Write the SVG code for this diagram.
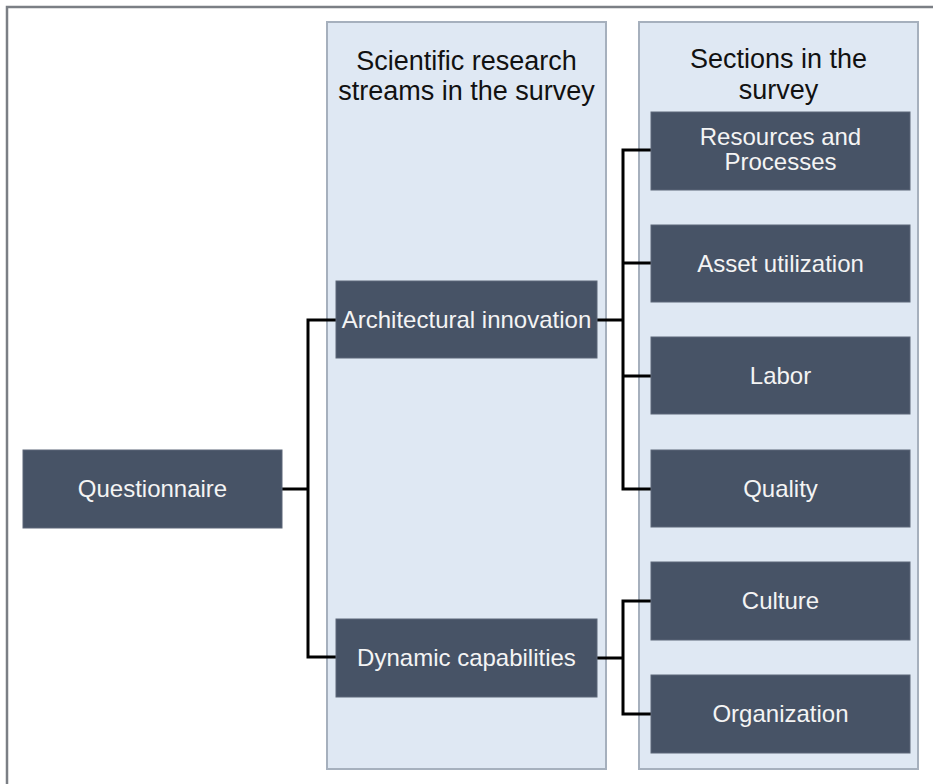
<svg xmlns="http://www.w3.org/2000/svg" width="933" height="784" viewBox="0 0 933 784">
<style>
.frame{fill:#ffffff;stroke:#7b7f85;stroke-width:2.5}
.panel{fill:#dfe8f3;stroke:#a6b0bd;stroke-width:2}
.box{fill:#475366;stroke:#5d6778;stroke-width:1}
.bt{font-family:"Liberation Sans",Arial,sans-serif;font-size:24px;fill:#f4f4f4;text-anchor:middle}
.ht{font-family:"Liberation Sans",Arial,sans-serif;font-size:27px;fill:#111111;text-anchor:middle}
.conn{fill:none;stroke:#000000;stroke-width:3}
</style>
<rect x="0" y="0" width="933" height="784" fill="#ffffff"/>
<rect class="frame" x="7" y="7" width="950" height="800"/>
<g id="panel-streams">
<rect class="panel" x="327" y="22" width="279" height="747"/>
<text class="ht" x="466.5" y="70">Scientific research</text>
<text class="ht" x="466.5" y="100">streams in the survey</text>
</g>
<g id="panel-sections">
<rect class="panel" x="639" y="22" width="279" height="747"/>
<text class="ht" x="778.5" y="68">Sections in the</text>
<text class="ht" x="778.5" y="99">survey</text>
</g>
<g id="connectors">
<path class="conn" d="M282,489 H308 M308,320 V657 M306.5,320 H337 M306.5,657 H337"/>
<path class="conn" d="M597,320 H623 M623,150 V489 M621.5,150 H651 M623,263 H651 M623,376 H651 M621.5,489 H651"/>
<path class="conn" d="M597,658 H623 M623,601 V714 M621.5,601 H651 M621.5,714 H651"/>
</g>
<g id="questionnaire">
<rect class="box" x="23" y="450" width="259" height="78"/>
<text class="bt" x="152.5" y="497">Questionnaire</text>
</g>
<g id="architectural-innovation">
<rect class="box" x="336" y="281" width="261" height="77"/>
<text class="bt" x="466.5" y="328">Architectural innovation</text>
</g>
<g id="dynamic-capabilities">
<rect class="box" x="336" y="619" width="261" height="78"/>
<text class="bt" x="466.5" y="666">Dynamic capabilities</text>
</g>
<g id="resources-processes">
<rect class="box" x="651" y="112" width="259" height="78"/>
<text class="bt" x="780.5" y="145">Resources and</text>
<text class="bt" x="780.5" y="170">Processes</text>
</g>
<g id="asset-utilization">
<rect class="box" x="651" y="225" width="259" height="77"/>
<text class="bt" x="780.5" y="272">Asset utilization</text>
</g>
<g id="labor">
<rect class="box" x="651" y="337" width="259" height="77"/>
<text class="bt" x="780.5" y="384">Labor</text>
</g>
<g id="quality">
<rect class="box" x="651" y="450" width="259" height="77"/>
<text class="bt" x="780.5" y="497">Quality</text>
</g>
<g id="culture">
<rect class="box" x="651" y="562" width="259" height="78"/>
<text class="bt" x="780.5" y="609">Culture</text>
</g>
<g id="organization">
<rect class="box" x="651" y="675" width="259" height="78"/>
<text class="bt" x="780.5" y="722">Organization</text>
</g>
</svg>
